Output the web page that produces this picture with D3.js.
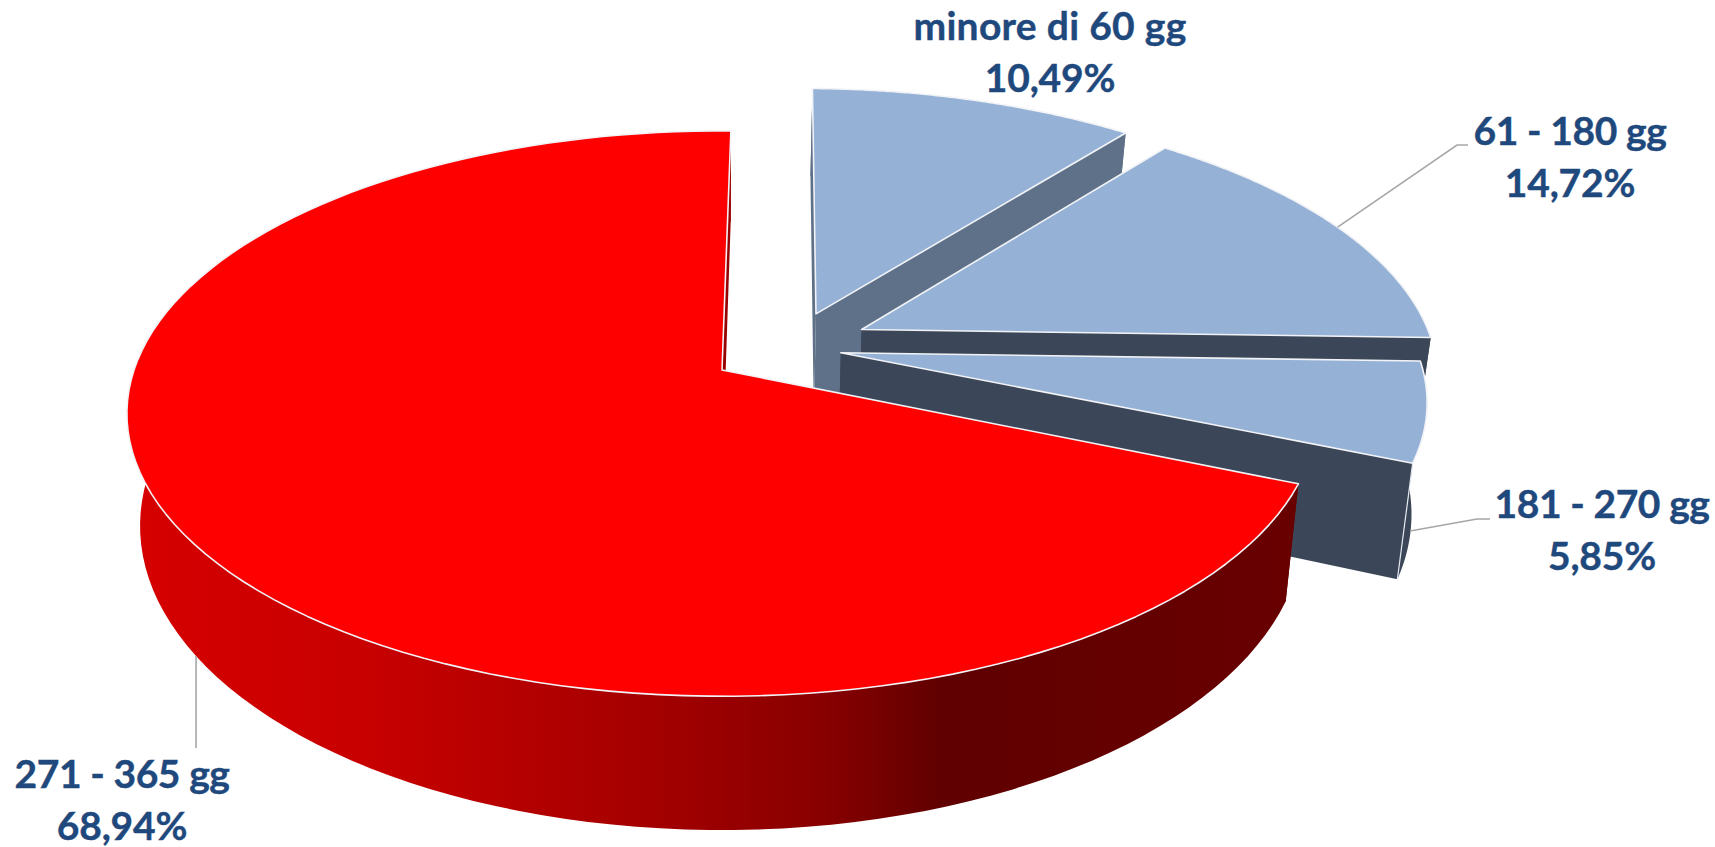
<!DOCTYPE html>
<html><head><meta charset="utf-8">
<style>html,body{margin:0;padding:0;background:#fff;overflow:hidden}svg{display:block}</style>
<script src="https://cdnjs.cloudflare.com/ajax/libs/d3/7.8.5/d3.min.js"></script>
</head><body><svg id="c" width="1715" height="847"></svg>
<script>
// ---- data ----
const categories = ["minore di 60 gg","61 - 180 gg","181 - 270 gg","271 - 365 gg"];
const values = [10.49,14.72,5.85,68.94];
const valueLabels = ["10,49%","14,72%","5,85%","68,94%"];

// ---- appearance / layout ----
const topColors  = ["#95b1d6","#95b1d6","#95b1d6","#ff0000"];
const sideColors = ["#5f7189","#3b4658","#3b4658","url(#redWall)"];
const explodeU = [0.165,0.243,0.204,0];
const explodeV = [-0.21,-0.15,-0.063,0];
const radius   = [1,0.985,0.99,1];
const labelX   = [1050,1570,1602,122];
const labelY   = [40,145,518,788];
const labelSpacing = [0.3,-0.4,-0.4,-0.4];
const lineGap  = 52;
const topPlane    = {ax:722,ay:370,k:588,h:276,p:0.154};
const bottomPlane = {ax:722,ay:479,k:575,h:297,p:0.154};

const svg = d3.select("#c");
const defs = svg.append("defs");
const grad = defs.append("linearGradient").attr("id","redWall")
  .attr("gradientUnits","userSpaceOnUse").attr("x1",130).attr("x2",1290).attr("y1",0).attr("y2",0);
[[0,"#d60000"],[0.2,"#c80000"],[0.45,"#a40000"],[0.6,"#880000"],[0.7,"#600000"],[1,"#680000"]]
  .forEach(([o,c])=>grad.append("stop").attr("offset",o).attr("stop-color",c));

const project = (u,v,P)=>{const f=1/(1-P.p*v);return [P.ax+P.k*u*f,P.ay+P.h*v*f];};
const pt = (t,r,i,P)=>project(explodeU[i]+r*radius[i]*Math.sin(t),explodeV[i]-r*radius[i]*Math.cos(t),P);
const line = d3.line();
const arcs = d3.pie().sort(null).value(d=>d).startAngle(Math.PI/180).endAngle(Math.PI/180+2*Math.PI)(values);

arcs.forEach((a,i)=>{
  const ts = d3.range(0,121).map(n=>a.startAngle+(a.endAngle-a.startAngle)*n/120);
  const g = svg.append("g");
  const face = (t)=>[pt(t,0,i,topPlane),pt(t,1,i,topPlane),pt(t,1,i,bottomPlane),pt(t,0,i,bottomPlane)];
  [a.startAngle,a.endAngle].forEach(t=>{
    g.append("path").attr("d",line(face(t))+"Z").attr("fill",sideColors[i]);
  });
  const wall = ts.map(t=>pt(t,1,i,topPlane)).concat(ts.slice().reverse().map(t=>pt(t,1,i,bottomPlane)));
  g.append("path").attr("d",line(wall)+"Z").attr("fill",sideColors[i]).attr("fill-rule","nonzero");
  if(i===2){
    g.append("path").attr("d",line([pt(a.endAngle,1,i,topPlane),pt(a.endAngle,1,i,bottomPlane)]))
      .attr("fill","none").attr("stroke","#e4e9ef").attr("stroke-width",1.2);
  }
  const top = [pt(0,0,i,topPlane)].concat(ts.map(t=>pt(t,1,i,topPlane)));
  g.append("path").attr("d",line(top)+"Z").attr("fill",topColors[i])
    .attr("stroke","#f1f3f6").attr("stroke-width",1.6).attr("stroke-linejoin","round");
});

// leader lines anchored on the slices
const mid = a=>(a.startAngle+a.endAngle)/2;
const wallPoint = (t,i,f)=>d3.interpolateArray(pt(t,1,i,topPlane),pt(t,1,i,bottomPlane))(f);
const leaders = [
  [pt(mid(arcs[1]),1,1,topPlane),[1457,145],[1468,145]],
  [wallPoint(mid(arcs[2])+0.08,2,0.85),[1477,519],[1490,519]],
  [pt(mid(arcs[3]),1,3,bottomPlane),[pt(mid(arcs[3]),1,3,bottomPlane)[0],748]]
];
leaders.forEach(p=>svg.append("path").attr("d",line(p)).attr("fill","none").attr("stroke","#a6a6a6").attr("stroke-width",1.6));

// labels
categories.forEach((c,i)=>{
  const t = svg.append("text").attr("text-anchor","middle").attr("fill","#1f497d")
    .attr("stroke","#1f497d").attr("stroke-width",0.4)
    .attr("font-family","Lato, 'Open Sans', sans-serif").attr("font-weight",700).attr("font-size",39);
  t.append("tspan").attr("x",labelX[i]).attr("y",labelY[i]).attr("letter-spacing",labelSpacing[i]).text(c);
  t.append("tspan").attr("x",labelX[i]).attr("y",labelY[i]+lineGap).attr("letter-spacing",-0.2).text(valueLabels[i]);
});
</script></body></html>
